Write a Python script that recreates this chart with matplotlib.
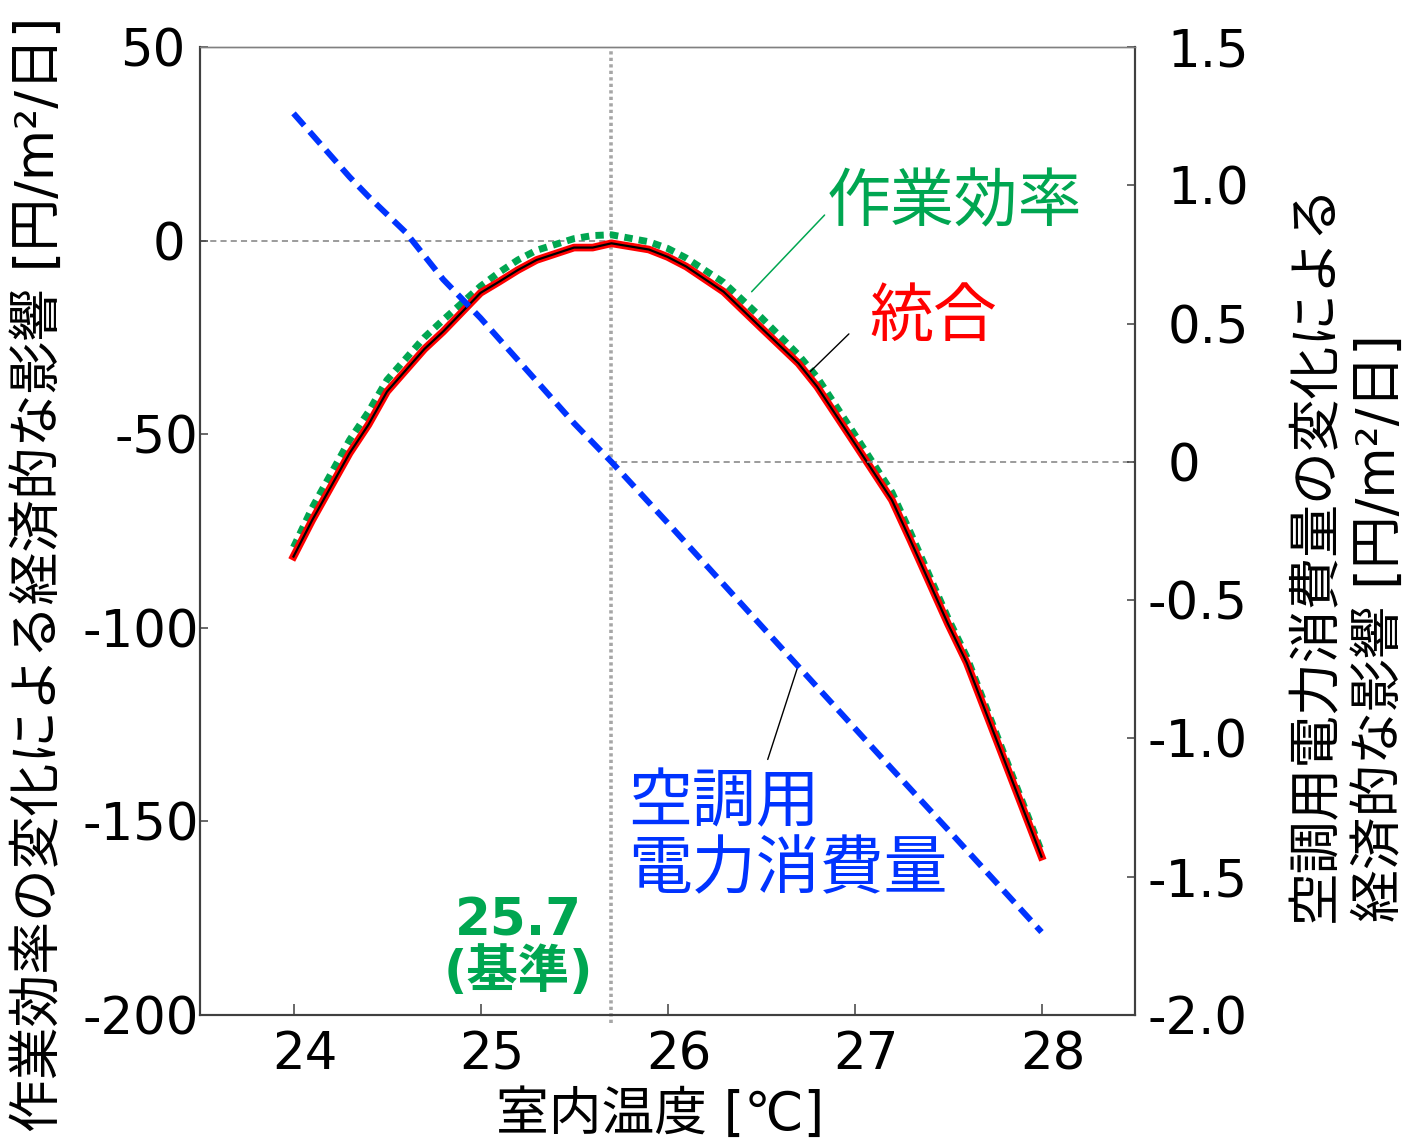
import matplotlib
matplotlib.use("Agg")
import matplotlib.pyplot as plt
from matplotlib.transforms import ScaledTranslation

plt.rcParams["font.family"] = ["DejaVu Sans", "Noto Sans CJK JP"]

# 室内温度 [℃]
temp = [24.0, 24.1, 24.3, 24.4, 24.5, 24.7, 24.8, 25.0, 25.1, 25.2, 25.3, 25.5, 25.6, 25.7,
        25.9, 26.0, 26.1, 26.3, 26.5, 26.7, 26.8, 27.0, 27.2, 27.3, 27.5, 27.6, 28.0]
# 統合 [円/m2/日]
total = [-81.6, -72.2, -54.9, -47.6, -39.0, -28.0, -23.5, -13.5, -10.6, -7.6, -5.0, -1.8, -1.8, -0.7,
         -2.3, -4.2, -6.7, -13.2, -22.5, -31.7, -37.7, -52.3, -67.0, -77.5, -99.0, -109.0, -159.1]
# 作業効率 [円/m2/日]
work_eff = [-79.2, -69.0, -51.5, -44.3, -36.0, -25.0, -20.5, -11.8, -8.2, -5.0, -2.5, 0.5, 1.3, 1.5,
            -0.3, -2.0, -4.5, -10.8, -19.8, -29.5, -35.3, -50.0, -65.0, -75.5, -97.5, -107.5, -157.8]

# 空調用電力消費量 [円/m2/日] (right axis)
ac_temp = [24.0, 24.3, 24.4, 24.6, 24.8, 25.0, 25.5, 25.7, 26.0, 26.7, 27.2, 27.5, 28.0]
ac_cost = [1.26, 1.03, 0.96, 0.83, 0.66, 0.52, 0.14, 0.00, -0.22, -0.74, -1.11, -1.33, -1.70]

base_temp = 25.7

x_ticks = [24, 25, 26, 27, 28]
left_ticks = [-200, -150, -100, -50, 0, 50]
right_ticks = [-2.0, -1.5, -1.0, -0.5, 0.0, 0.5, 1.0, 1.5]
right_labels = ["-2.0", "-1.5", "-1.0", "-0.5", "0", "0.5", "1.0", "1.5"]

GREEN = "#00a651"
RED = "#ff0000"
BLUE = "#0033ff"
SPINE = "#404040"

fig = plt.figure(figsize=(14.11, 11.48), dpi=100)
ax = fig.add_axes([200 / 1411, 133 / 1148, 935 / 1411, 968 / 1148])
ax2 = ax.twinx()


def shift(labels, dx_px):
    for lab in labels:
        lab.set_transform(lab.get_transform() + ScaledTranslation(dx_px / 100, 0, fig.dpi_scale_trans))


# reference lines at the base temperature
ax.plot([base_temp, base_temp], [-202, 50], color="#a6a6a6", lw=2.6,
        linestyle=(0, (0.9, 0.9)), clip_on=False, zorder=1)
ax.plot([23.5, base_temp], [0, 0], color="#808080", lw=1.1, linestyle=(0, (4, 2.7)), zorder=1)
ax2.plot([base_temp, 28.5], [0, 0], color="#808080", lw=1.1, linestyle=(0, (4, 2.7)), zorder=1)

ax.plot(temp, work_eff, color=GREEN, lw=5, linestyle=(0, (1.2, 0.9)), zorder=3)
ax.plot(temp, total, color=RED, lw=5.5, zorder=4)
ax.plot(temp, total, color="black", lw=1.6, zorder=5)
ax2.plot(ac_temp, ac_cost, color=BLUE, lw=4.3, linestyle=(0, (2.7, 1.4)), zorder=3)

ax.set_xlim(23.5, 28.5)
ax.set_ylim(-200, 50)
ax2.set_ylim(-2.0, 1.5)

ax.set_xticks(x_ticks)
ax.set_xticklabels([str(t) for t in x_ticks])
ax.set_yticks(left_ticks)
ax.set_yticklabels([str(t) for t in left_ticks])
ax2.set_yticks(right_ticks)
ax2.set_yticklabels(right_labels)

ax.tick_params(axis="x", direction="in", length=8, width=1.1, color=SPINE, pad=11, labelsize=37)
ax.tick_params(axis="y", direction="in", length=5.5, width=1.1, color=SPINE, pad=1, labelsize=37)
ax2.tick_params(axis="y", direction="in", length=5.5, width=1.1, color=SPINE, pad=9, labelsize=37)
for lab in ax2.get_yticklabels():
    lab.set_horizontalalignment("left")

shift(ax.get_xticklabels(), 11)
shift([l for l in ax.get_yticklabels() if not l.get_text().startswith("-")], -13)
shift([l for l in ax2.get_yticklabels() if not l.get_text().startswith("-")], 20)

for a in (ax, ax2):
    for side in ("left", "right", "bottom"):
        a.spines[side].set_color(SPINE)
        a.spines[side].set_linewidth(1.5)
    a.spines["top"].set_color("#808080")
    a.spines["top"].set_linewidth(1.0)

ax.set_xlabel("室内温度 [℃]", fontsize=38, va="center")
ax.xaxis.set_label_coords(0.492, -0.103)
ax.set_ylabel("作業効率の変化による経済的な影響 [円/m²/日]", fontsize=38, va="center", ha="center")
ax.yaxis.set_label_coords(-0.172, 0.4556)
ax2.set_ylabel("空調用電力消費量の変化による\n経済的な影響 [円/m²/日]", fontsize=38,
               va="center", ha="left", multialignment="left", linespacing=1.3)
ax2.yaxis.set_label_coords(1.2278, 0.096)

# series labels
ax.text(26.85, 9.7, "作業効率", color=GREEN, fontsize=46, ha="left", va="center")
ax.annotate("", xy=(26.45, -13.2), xytext=(26.84, 6.6),
            arrowprops=dict(arrowstyle="-", color=GREEN, lw=1.1, shrinkA=0, shrinkB=0))
ax.text(27.08, -20.0, "統合", color=RED, fontsize=46, ha="left", va="center")
ax.annotate("", xy=(26.745, -34.7), xytext=(26.97, -24.1),
            arrowprops=dict(arrowstyle="-", color="black", lw=1.0, shrinkA=0, shrinkB=0))
ax.text(25.79, -154.0, "空調用\n電力消費量", color=BLUE, fontsize=46, ha="left", va="center",
        linespacing=1.1)
ax.annotate("", xy=(26.695, -110.3), xytext=(26.536, -134.0),
            arrowprops=dict(arrowstyle="-", color="black", lw=1.0, shrinkA=0, shrinkB=0))

ax.text(25.2, -182.5, f"{base_temp}\n(基準)", color=GREEN, fontsize=37, fontweight="bold",
        ha="center", va="center", linespacing=1.0)

fig.savefig("out.png", dpi=100)
